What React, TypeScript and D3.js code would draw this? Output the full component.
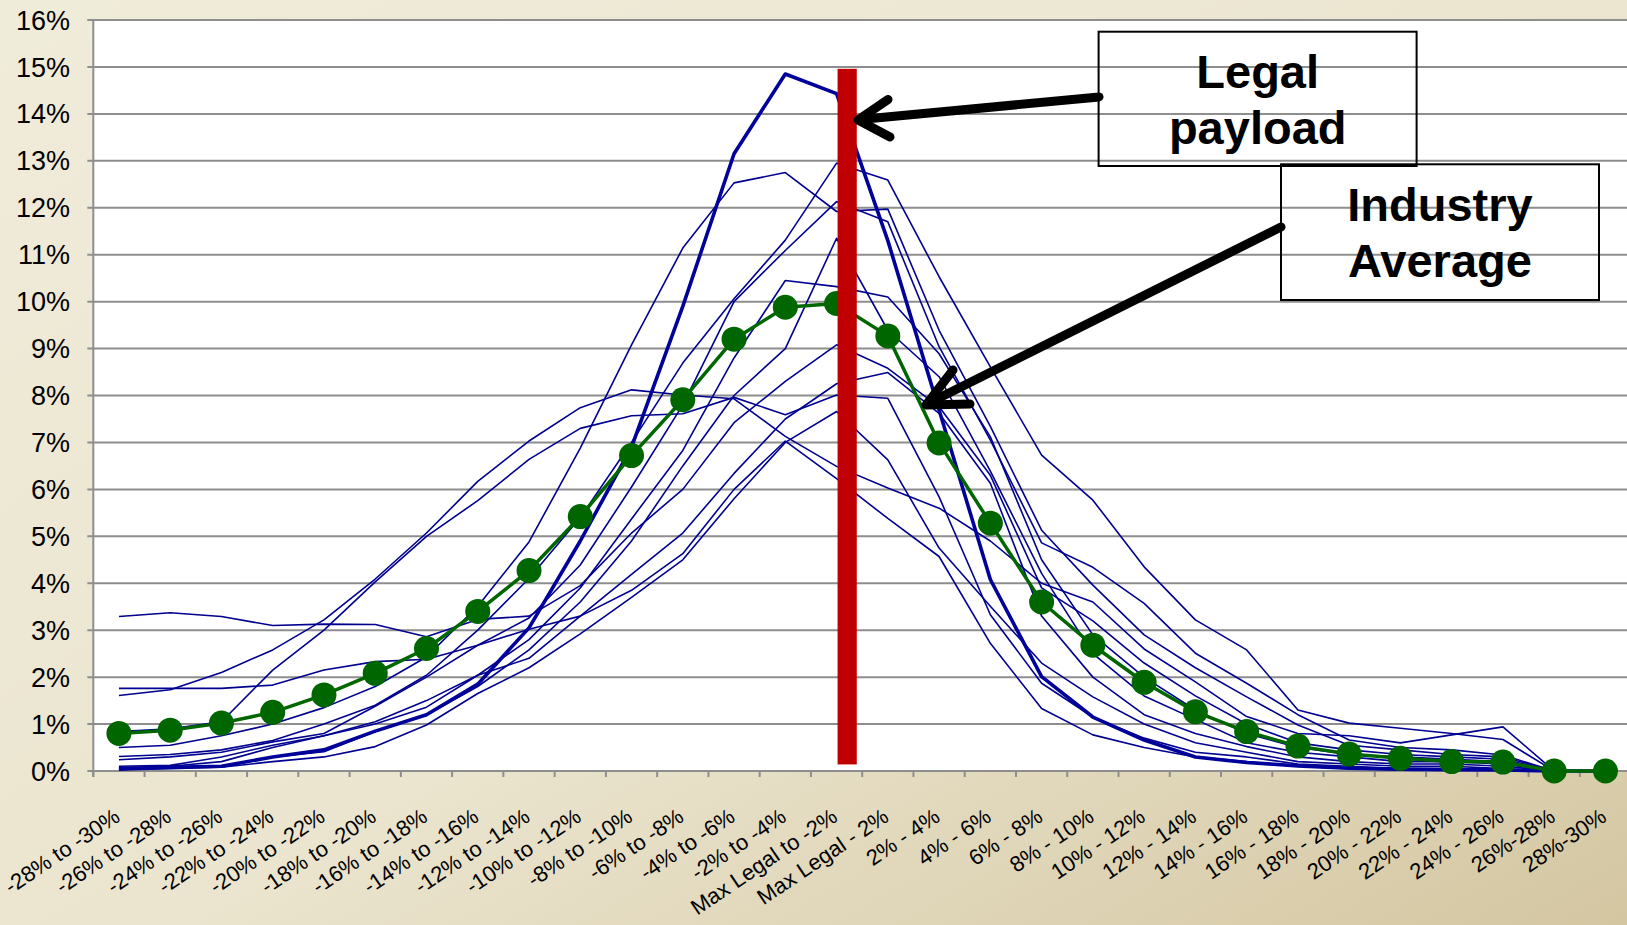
import React from "react";
import * as d3 from "d3";

const categories = [
  "-28% to -30%", "-26% to -28%", "-24% to -26%", "-22% to -24%", "-20% to -22%",
  "-18% to -20%", "-16% to -18%", "-14% to -16%", "-12% to -14%", "-10% to -12%",
  "-8% to -10%", "-6% to -8%", "-4% to -6%", "-2% to -4%", "Max Legal to -2%",
  "Max Legal - 2%", "2% - 4%", "4% - 6%", "6% - 8%", "8% - 10%",
  "10% - 12%", "12% - 14%", "14% - 16%", "16% - 18%", "18% - 20%",
  "20% - 22%", "22% - 24%", "24% - 26%", "26%-28%", "28%-30%",
];

const yTicks = [0, 1, 2, 3, 4, 5, 6, 7, 8, 9, 10, 11, 12, 13, 14, 15, 16];

// Industry average (%)
const industryAverage = [0.80, 0.87, 1.02, 1.25, 1.62, 2.08, 2.61, 3.40, 4.27, 5.42, 6.72, 7.91, 9.20, 9.88, 9.96, 9.27, 6.99, 5.28, 3.60, 2.68, 1.89, 1.26, 0.84, 0.53, 0.36, 0.27, 0.20, 0.19, 0, 0];

// Highlighted (thick) carrier (%)
const thickCarrier = [0.05, 0.08, 0.10, 0.30, 0.45, 0.85, 1.20, 1.85, 3.05, 4.90, 6.90, 9.90, 13.15, 14.85, 14.43, 11.30, 7.69, 4.08, 2.01, 1.15, 0.66, 0.30, 0.18, 0.11, 0.06, 0.04, 0.03, 0.02, 0, 0];

// Individual carriers (%)
const carrierR1 = [0.31, 0.35, 0.45, 0.65, 1.00, 1.40, 2.04, 3.00, 4.10, 5.40, 7.00, 8.69, 10.06, 11.31, 12.95, 12.59, 10.53, 8.61, 6.73, 5.77, 4.35, 3.22, 2.58, 1.30, 1.02, 0.91, 0.80, 0.67, 0, 0];
const carrierS2 = [0.50, 0.55, 0.75, 1.00, 1.35, 1.80, 2.43, 3.51, 4.88, 6.88, 9.08, 11.14, 12.53, 12.75, 11.92, 11.97, 9.39, 7.34, 5.13, 3.96, 2.90, 2.20, 1.58, 0.98, 0.55, 0.45, 0.35, 0.30, 0, 0];
const carrierTA = [1.61, 1.73, 2.10, 2.58, 3.22, 4.09, 5.07, 6.17, 7.03, 7.74, 8.12, 8.01, 7.93, 7.13, 6.49, 6.03, 5.60, 4.90, 4.00, 3.60, 2.60, 1.90, 1.16, 0.80, 0.75, 0.60, 0.77, 0.94, 0, 0];
const carrierL1 = [3.29, 3.37, 3.29, 3.10, 3.13, 3.12, 2.86, 3.23, 3.30, 3.95, 5.07, 6.00, 7.42, 8.30, 9.08, 8.58, 7.76, 6.30, 3.90, 3.20, 2.30, 1.60, 1.00, 0.60, 0.45, 0.35, 0.30, 0.25, 0, 0];
const carrierF = [1.76, 1.76, 1.76, 1.83, 2.15, 2.33, 2.38, 2.68, 3.02, 3.30, 3.85, 4.63, 6.00, 7.03, 6.23, 5.38, 4.57, 2.72, 1.33, 0.77, 0.50, 0.30, 0.20, 0.10, 0.05, 0.03, 0.02, 0.02, 0, 0];
const carrierE2 = [0.84, 0.90, 1.05, 2.15, 3.00, 4.03, 5.00, 5.76, 6.64, 7.30, 7.57, 7.61, 7.96, 7.59, 8.01, 7.94, 5.84, 3.33, 1.87, 1.15, 0.70, 0.40, 0.30, 0.15, 0.10, 0.05, 0.05, 0.03, 0, 0];
const carrierM1 = [0.24, 0.30, 0.40, 0.62, 0.80, 1.38, 2.00, 2.68, 3.26, 4.39, 6.05, 7.80, 10.00, 11.09, 12.13, 11.70, 9.04, 7.05, 4.86, 4.34, 3.57, 2.51, 1.87, 1.20, 0.66, 0.50, 0.45, 0.34, 0, 0];
const carrierM2 = [0.10, 0.12, 0.30, 0.55, 0.75, 1.05, 1.50, 2.04, 2.80, 3.90, 5.37, 6.83, 8.80, 10.45, 10.32, 10.10, 8.89, 7.12, 4.50, 2.90, 2.00, 1.30, 0.80, 0.50, 0.35, 0.30, 0.25, 0.20, 0, 0];
const carrierM3 = [0.06, 0.08, 0.10, 0.30, 0.41, 0.84, 1.19, 1.80, 2.58, 3.60, 4.90, 6.50, 8.00, 9.00, 11.35, 9.39, 8.40, 6.39, 4.21, 2.50, 1.60, 1.10, 0.60, 0.40, 0.30, 0.20, 0.20, 0.15, 0, 0];
const carrierX = [0.03, 0.10, 0.20, 0.50, 0.75, 1.00, 1.36, 2.04, 2.40, 3.30, 4.19, 5.07, 6.34, 7.50, 8.25, 8.49, 7.62, 6.13, 3.30, 2.00, 1.20, 0.80, 0.52, 0.30, 0.20, 0.15, 0.15, 0.10, 0, 0];
const carrierY = [0.02, 0.05, 0.08, 0.20, 0.30, 0.52, 0.98, 1.65, 2.20, 2.92, 3.70, 4.50, 5.80, 7.00, 7.66, 6.63, 4.75, 3.51, 2.30, 1.58, 1.00, 0.60, 0.40, 0.20, 0.15, 0.10, 0.10, 0.05, 0, 0];

const thinCarriers = [carrierR1, carrierS2, carrierTA, carrierL1, carrierF, carrierE2, carrierM1, carrierM2, carrierM3, carrierX, carrierY];

const W = 1627;
const H = 925;
const FONT = "'Liberation Sans', Arial, Helvetica, sans-serif";

export default function App() {
  const left = 93.3;
  const step = 51.26;
  const x = d3.scaleBand<string>().domain(categories).range([left, left + step * categories.length]).padding(0);
  const y = d3.scaleLinear().domain([0, 16]).range([771, 20]);
  const cx = (i: number) => (x(categories[i]) as number) + x.bandwidth() / 2;

  const line = d3.line<number>().x((_, i) => cx(i)).y((d) => y(d));

  const plotTop = y(16);
  const plotBottom = y(0);

  const barX0 = cx(14) + 1;
  const barX1 = cx(14) + 20.2;

  return (
    <svg width={W} height={H} style={{ position: "absolute", left: 0, top: 0 }} fontFamily={FONT}>
      <defs>
        <linearGradient id="bg" x1="0" y1="0" x2="1" y2="1">
          <stop offset="0" stopColor="#F0ECDA" />
          <stop offset="0.55" stopColor="#EBE5CF" />
          <stop offset="1" stopColor="#D4C6A1" />
        </linearGradient>
      </defs>
      <rect x={0} y={0} width={W} height={H} fill="url(#bg)" />
      <rect x={left} y={plotTop} width={W - left} height={plotBottom - plotTop} fill="#FFFFFF" />

      {yTicks.map((t) => (
        <line key={"g" + t} x1={left - 6} x2={W} y1={y(t)} y2={y(t)} stroke="#8E8E8E" strokeWidth={2} />
      ))}
      <line x1={left} x2={left} y1={plotTop} y2={plotBottom + 6} stroke="#8E8E8E" strokeWidth={2} />
      {yTicks.map((t) => (
        <text key={"yl" + t} x={70} y={y(t) + 9.6} fontSize={27} textAnchor="end" fill="#000">
          {t + "%"}
        </text>
      ))}
      {categories.map((c, i) => (
        <line key={"xt" + i} x1={x(c) as number} x2={x(c) as number} y1={plotBottom} y2={plotBottom + 6} stroke="#8E8E8E" strokeWidth={2} />
      ))}
      {categories.map((c, i) => (
        <text
          key={"xl" + i}
          transform={`translate(${cx(i) + 2.5},${plotBottom + 49}) rotate(-34)`}
          fontSize={22}
          textAnchor="end"
          fill="#000"
        >
          {c}
        </text>
      ))}

      {thinCarriers.map((s, k) => (
        <path key={"s" + k} d={line(s) || ""} fill="none" stroke="#000090" strokeWidth={1.6} strokeLinejoin="round" />
      ))}
      <path d={line(thickCarrier) || ""} fill="none" stroke="#00009A" strokeWidth={3.6} strokeLinejoin="round" />

      <path d={line(industryAverage) || ""} fill="none" stroke="#006600" strokeWidth={3.5} strokeLinejoin="round" />
      {industryAverage.map((v, i) => (
        <circle key={"d" + i} cx={cx(i)} cy={y(v)} r={12.5} fill="#006600" />
      ))}

      <rect x={barX0} y={y(14.96)} width={barX1 - barX0} height={y(0.14) - y(14.96)} fill="#C00000" />

      <g stroke="#000" strokeWidth={9} strokeLinecap="round" strokeLinejoin="round" fill="none">
        <line x1={1099} y1={97} x2={860} y2={119.5} />
        <polyline points="888,99.5 858,120 890,137" />
      </g>
      <g stroke="#000" strokeWidth={9} strokeLinecap="round" strokeLinejoin="round" fill="none">
        <line x1={1281} y1={227} x2={928} y2={403.5} />
        <polyline points="953,370 926,405 970,404" />
      </g>

      <rect x={1098.6} y={31.7} width={318} height={134.3} fill="none" stroke="#000" strokeWidth={2} />
      <text x={1257.7} y={88.3} fontSize={47} fontWeight="bold" textAnchor="middle">Legal</text>
      <text x={1257.7} y={144} fontSize={47} fontWeight="bold" textAnchor="middle">payload</text>

      <rect x={1281} y={164.3} width={318} height={135.7} fill="none" stroke="#000" strokeWidth={2} />
      <text x={1440} y={220.7} fontSize={47} fontWeight="bold" textAnchor="middle">Industry</text>
      <text x={1440} y={277.3} fontSize={47} fontWeight="bold" textAnchor="middle">Average</text>
    </svg>
  );
}
